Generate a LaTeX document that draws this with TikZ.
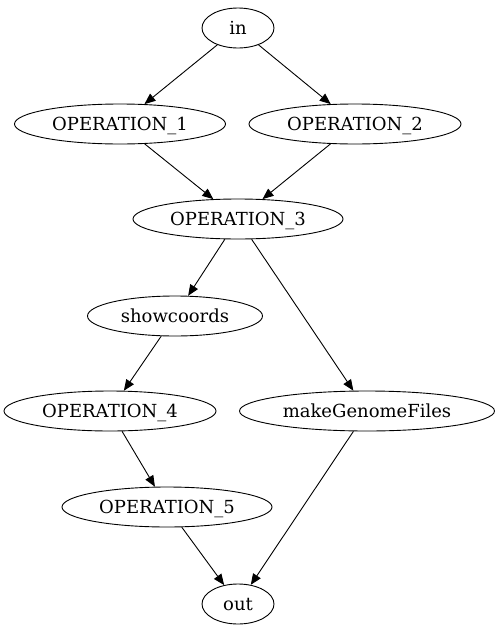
\documentclass[tikz,border=0pt]{standalone}
\usepackage{fontspec}
\setmainfont{DejaVu Serif}
\usetikzlibrary{shapes.geometric,arrows.meta}
\begin{document}
\begin{tikzpicture}[x=1pt,y=-1pt,
  op/.style={draw,ellipse,line width=0.9pt,inner sep=0pt,minimum height=40pt,text height=13.5pt,text depth=0.5pt,font=\fontsize{18}{20}\selectfont},
  edge/.style={line width=0.9pt,-{Triangle[length=11pt,width=9pt]}}]
\useasboundingbox (0,0) rectangle (501,635);
\node[op,minimum width=72pt] (in) at (238,28) {in};
\node[op,minimum width=211pt] (op1) at (120,124) {OPERATION\_1};
\node[op,minimum width=212pt] (op2) at (355,124) {OPERATION\_2};
\node[op,minimum width=210pt] (op3) at (238,219) {OPERATION\_3};
\node[op,minimum width=175pt] (sc) at (175,316) {showcoords};
\node[op,minimum width=212pt] (op4) at (110,411) {OPERATION\_4};
\node[op,minimum width=255pt] (mg) at (367,411) {makeGenomeFiles};
\node[op,minimum width=210pt] (op5) at (167,507) {OPERATION\_5};
\node[op,minimum width=72pt] (out) at (238,604) {out};
\draw[edge] (in) -- (op1);
\draw[edge] (in) -- (op2);
\draw[edge] (op1) -- (op3);
\draw[edge] (op2) -- (op3);
\draw[edge] (op3) -- (sc);
\draw[edge] (op3) -- (mg);
\draw[edge] (sc) -- (op4);
\draw[edge] (op4) -- (op5);
\draw[edge] (op5) -- (out);
\draw[edge] (mg) -- (out);
\end{tikzpicture}
\end{document}
